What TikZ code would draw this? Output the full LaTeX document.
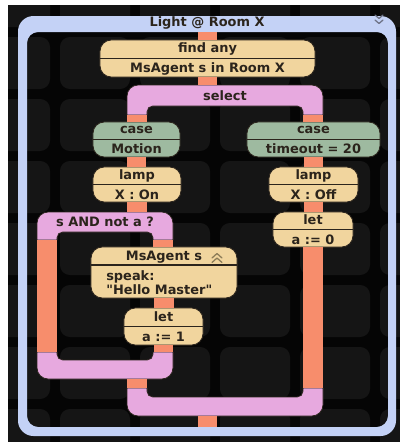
\documentclass[tikz,border=0pt]{standalone}
\usepackage{fontspec}
\setmainfont{DejaVu Sans}
\usepackage{xcolor}
\definecolor{framebg}{HTML}{C4D2F6}
\definecolor{tanfill}{HTML}{F1D59E}
\definecolor{sagefill}{HTML}{9EBAA0}
\definecolor{orchidfill}{HTML}{E7A9DF}
\definecolor{salmonlink}{HTML}{F78D6C}
\definecolor{ink}{HTML}{2B241C}
\definecolor{tilegray}{HTML}{151515}
\definecolor{bgblack}{HTML}{050505}
\definecolor{iconframe}{HTML}{6E7386}
\definecolor{iconagent}{HTML}{8C7C58}

\begin{document}
\begin{tikzpicture}[x=0.025cm, y=-0.025cm,
  every node/.style={font=\fontsize{9.2}{14.2}\selectfont\bfseries, text=ink},
  block/.style={draw=ink, line width=0.6pt, fill=tanfill, rounded corners=8pt,
    minimum height=0.9cm, inner sep=0pt, align=center},
  casebox/.style={block, fill=sagefill, minimum height=0.875cm},
  divider/.style={draw=ink, line width=0.8pt},
  band/.style={fill=orchidfill, draw=ink, line width=0.5pt},
  bandlabel/.style={inner sep=0pt, minimum height=0.5cm},
  link/.style={draw=salmonlink, line width=0.475cm},
  chevron/.style={line width=0.9pt, line cap=round, line join=round}]
\useasboundingbox (0,0) rectangle (400,442);

% backdrop with its rounded tiles
\fill[white] (0,0) rectangle (400,442);
\fill[bgblack] (8,5) rectangle (400,442);
\begin{scope}
  \clip (8,5) rectangle (400,442);
  \foreach \i in {0,...,5}
    \foreach \j in {0,...,7}
      \fill[tilegray, rounded corners=7pt] ({\i*80-20},{\j*62-25}) rectangle +(70,52);
\end{scope}

% outer frame
\fill[framebg, even odd rule] [rounded corners=11pt] (18,16) rectangle (396,436)
  [rounded corners=8pt] (27,32) rectangle (388,427);
\node (title) at (207,23) {Light @ Room X};
\draw[chevron, draw=iconframe] (375,15) -- (379,18.5) -- (383,15)
  (375,20) -- (379,23.5) -- (383,20);
\coordinate (top) at (207.5,32);
\coordinate (bottom) at (207.5,427);

% select bracket
\filldraw[band] (127,115) [rounded corners=8pt] -- (127,85) -- (323,85)
  [sharp corners] -- (323,115) -- (303,115) [rounded corners=4pt] -- (303,106)
  -- (147,106) [sharp corners] -- (147,115) -- cycle;
\node[bandlabel, minimum width=4.9cm] (select) at (225,95.5) {select};
\coordinate (selL) at (137,115);
\coordinate (selR) at (313,115);

% condition bracket and its join
\filldraw[band] (37,240) [rounded corners=8pt] -- (37,212) -- (173,212)
  [sharp corners] -- (173,240) -- (153,240) [rounded corners=4pt] -- (153,232)
  -- (57,232) [sharp corners] -- (57,240) -- cycle;
\node[bandlabel, minimum width=3.4cm] (cond) at (105,222) {s AND not a ?};
\coordinate (condL) at (47,240);
\coordinate (condR) at (163,240);
\filldraw[band] (37,352) [rounded corners=8pt] -- (37,379) -- (173,379)
  [sharp corners] -- (173,352) -- (153,352) [rounded corners=4pt] -- (153,360)
  -- (57,360) [sharp corners] -- (57,352) -- cycle;
\coordinate (loopL) at (47,352);
\coordinate (loopR) at (163,352);
\coordinate (loopOut) at (137,379);

% final join
\filldraw[band] (127,388) [rounded corners=8pt] -- (127,416) -- (323,416)
  [sharp corners] -- (323,388) -- (303,388) [rounded corners=4pt] -- (303,397)
  -- (147,397) [sharp corners] -- (147,388) -- cycle;
\coordinate (joinL) at (137,388);
\coordinate (joinR) at (313,388);
\coordinate (joinOut) at (207.5,416);

% blocks
\node[block, minimum width=5.375cm, minimum height=0.925cm] (find) at (207.5,58.5)
  {find any\\MsAgent s in Room X};
\node[casebox, minimum width=2.175cm] (caseM) at (136.5,139.5) {case\\Motion};
\node[casebox, minimum width=3.325cm] (caseT) at (313.5,139.5) {case\\timeout = 20};
\node[block, minimum width=2.2cm, minimum height=0.875cm] (lampOn) at (137,184.5) {lamp\\X : On};
\node[block, minimum width=2.225cm, minimum height=0.875cm] (lampOff) at (313.5,184.5) {lamp\\X : Off};
\node[block, minimum width=2cm, minimum height=0.875cm] (letZero) at (313,229.5) {let\\a := 0};
\node[block, minimum width=1.975cm, minimum height=0.925cm] (letOne) at (163.5,326.5) {let\\a := 1};
\foreach \b in {find,caseM,caseT,lampOn,lampOff,letZero,letOne}
  \draw[divider] (\b.west) -- (\b.east);

\node[block, minimum width=3.65cm, minimum height=1.275cm] (agent) at (164,272.5) {};
\node (agentHead) at (164,257) {MsAgent s};
\draw[divider] (agent.west |- 0,265) -- (agent.east |- 0,265);
\draw[chevron, draw=iconagent] (212,258) -- (217,253.5) -- (222,258)
  (212,262.5) -- (217,258) -- (222,262.5);
\node[anchor=west, align=left, inner sep=0pt,
  font=\fontsize{9.2}{9.5}\selectfont\bfseries] (agentBody) at (106,282.5)
  {speak:\\\textquotedbl Hello Master\textquotedbl};

% links
\draw[link] (top) -- (find.north);
\draw[link] (find.south) -- (find.south |- select.north);
\draw[link] (selL) -- (selL |- caseM.north);
\draw[link] (selR) -- (selR |- caseT.north);
\foreach \a/\b in {caseM/lampOn, caseT/lampOff, lampOff/letZero, agent/letOne}
  \draw[link] (\a.south) -- (\a.south |- \b.north);
\draw[link] (lampOn.south) -- (lampOn.south |- cond.north);
\draw[link] (condR) -- (condR |- agent.north);
\draw[link] (letOne.south) -- (letOne.south |- loopR);
\draw[link] (condL) -- (loopL);
\draw[link] (loopOut) -- (joinL);
\draw[link] (letZero.south) -- (letZero.south |- joinR);
\draw[link] (joinOut) -- (bottom);
\end{tikzpicture}
\end{document}
